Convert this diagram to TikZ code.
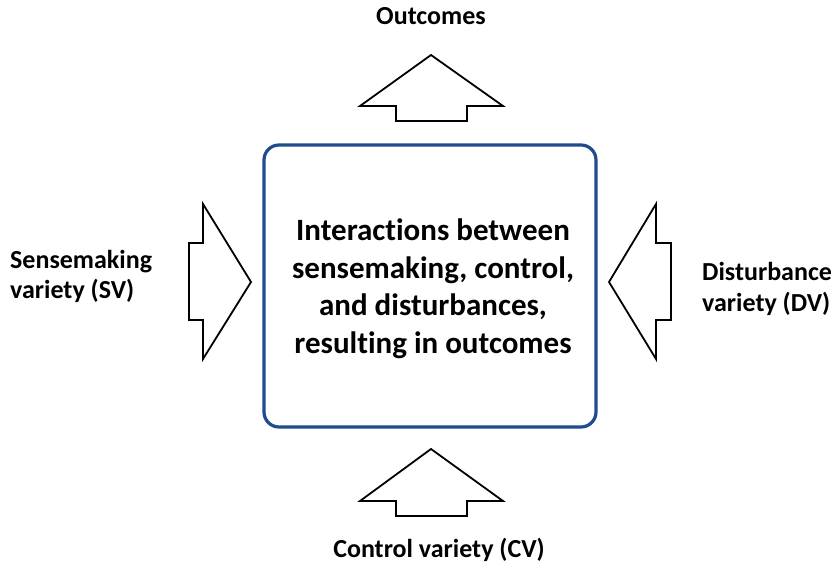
\documentclass[tikz,border=0pt]{standalone}
\usepackage{fontspec}
\setmainfont{Carlito}[Ligatures=NoCommon]
\definecolor{boxblue}{RGB}{30,76,140}
\tikzset{
  blockarrow/.style={draw=black, fill=white, line width=1.8pt, line join=miter},
  sidelabel/.style={font=\bfseries\fontsize{26}{31}\selectfont, inner sep=0pt, align=left},
  centrebox/.style={draw=boxblue, line width=3.2pt, rounded corners=15pt, fill=white},
  centretext/.style={font=\bfseries\fontsize{31}{37.5}\selectfont, align=center, inner sep=0pt}
}
\begin{document}
\begin{tikzpicture}[x=1pt,y=-1pt]
  \useasboundingbox (0,0) rectangle (836,572);

  % central box (last text line sits on the given baseline)
  \draw[centrebox] (264,145) rectangle (596,427);
  \node[centretext, anchor=base] (core) at (433,353)
    {Interactions between\\sensemaking, control,\\and disturbances,\\resulting in outcomes};

  % upward block arrow towards the outcomes
  \draw[blockarrow] (431,55) -- (503,106) -- (467,106) -- (467,121)
    -- (396,121) -- (396,106) -- (360,106) -- cycle;
  % upward block arrow from the control variety
  \draw[blockarrow] (431,449) -- (503,501) -- (467,501) -- (467,516)
    -- (396,516) -- (396,501) -- (360,501) -- cycle;
  % rightward block arrow from the sensemaking variety
  \draw[blockarrow] (251,282) -- (203,359) -- (203,320) -- (189,320)
    -- (189,243) -- (203,243) -- (203,204) -- cycle;
  % leftward block arrow from the disturbance variety
  \draw[blockarrow] (609,282) -- (656,359) -- (656,320) -- (671,320)
    -- (671,243) -- (656,243) -- (656,204) -- cycle;

  % labels
  \node[sidelabel, anchor=base] (out) at (431,25) {Outcomes};
  \node[sidelabel, anchor=base] (cv) at (439,557) {Control variety (CV)};
  \node[sidelabel, anchor=base west] (sv) at (10,299) {Sensemaking\\variety (SV)};
  \node[sidelabel, anchor=base west] (dv) at (702,312) {Disturbance\\variety (DV)};
\end{tikzpicture}
\end{document}
